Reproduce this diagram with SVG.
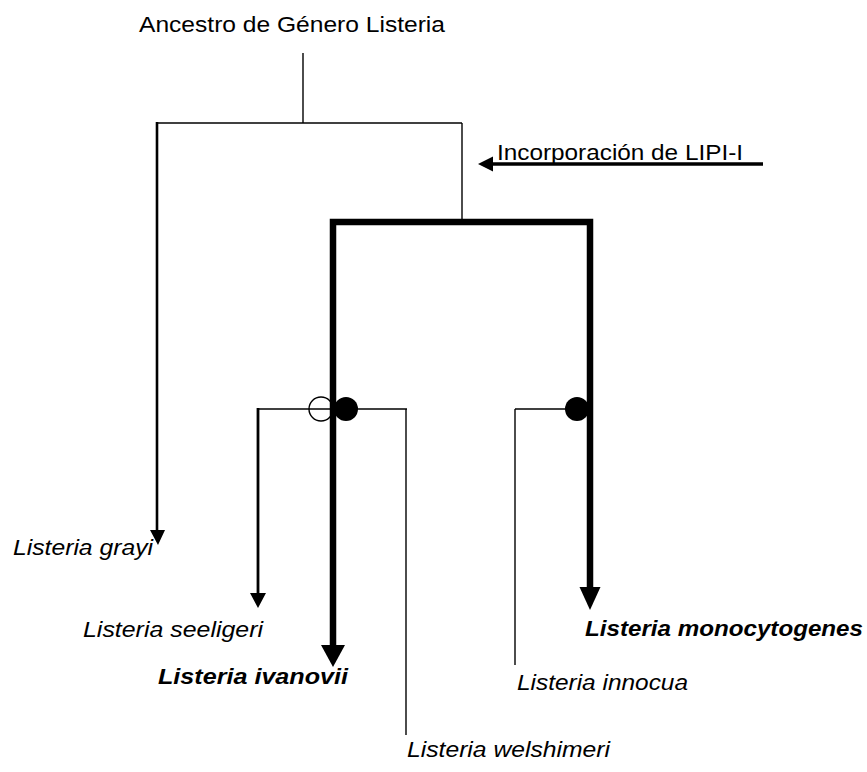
<svg xmlns="http://www.w3.org/2000/svg" width="867" height="772" viewBox="0 0 867 772">
<style>
  text { font-family: "Liberation Sans", Arial, sans-serif; font-size: 22px; fill: #000; }
  .sp { font-style: italic; }
  .bold { font-weight: bold; }
  .thin { stroke: #000; stroke-width: 1.4; fill: none; }
  .arr { stroke: #000; stroke-width: 3.5; fill: none; }
  .thick { stroke: #000; stroke-width: 6.5; fill: none; stroke-linejoin: miter; }
  .head { fill: #000; stroke: none; }
</style>
<rect width="867" height="772" fill="#fff"/>
<g id="ancestro">
  <text x="139" y="32" font-size="22" textLength="306" lengthAdjust="spacingAndGlyphs">Ancestro de Género Listeria</text>
</g>
<g id="lipi">
  <text x="497" y="160" font-size="22" textLength="246" lengthAdjust="spacingAndGlyphs">Incorporación de LIPI-I</text>
</g>
<g id="grayi"><text class="sp" x="13" y="555" textLength="140" lengthAdjust="spacingAndGlyphs">Listeria grayi</text></g>
<g id="seeligeri"><text class="sp" x="83" y="637" textLength="180" lengthAdjust="spacingAndGlyphs">Listeria seeligeri</text></g>
<g id="ivanovii"><text class="sp bold" x="158" y="684" textLength="190" lengthAdjust="spacingAndGlyphs">Listeria ivanovii</text></g>
<g id="monocytogenes"><text class="sp bold" x="585" y="636" textLength="278" lengthAdjust="spacingAndGlyphs">Listeria monocytogenes</text></g>
<g id="innocua"><text class="sp" x="517" y="690" textLength="171" lengthAdjust="spacingAndGlyphs">Listeria innocua</text></g>
<g id="welshimeri"><text class="sp" x="407" y="757" textLength="203" lengthAdjust="spacingAndGlyphs">Listeria welshimeri</text></g>
<g id="markers">
  <circle cx="321" cy="409" r="12" fill="#fff" stroke="#000" stroke-width="1.4"/>
  <circle cx="346" cy="409" r="12" fill="#000"/>
  <circle cx="577" cy="409" r="12" fill="#000"/>
</g>
<g id="connectors">
  <line class="thin" x1="303" y1="53" x2="303" y2="123"/>
  <line class="thin" x1="156" y1="123" x2="462" y2="123"/>
  <line class="thin" x1="462" y1="123" x2="462" y2="219"/>
  <line class="arr" x1="157" y1="122" x2="157" y2="531" style="stroke-width:2.6"/>
  <polygon class="head" points="150,530 165,530 158,545"/>
  <line class="thin" x1="258" y1="409" x2="407" y2="409"/>
  <line class="thin" x1="515" y1="409" x2="577" y2="409"/>
  <line class="arr" x1="258" y1="408" x2="258" y2="594" style="stroke-width:2.8"/>
  <polygon class="head" points="250,593 266,593 258,608"/>
  <line class="thin" x1="406" y1="409" x2="406" y2="735"/>
  <line class="thin" x1="515" y1="409" x2="515" y2="665"/>
  <line class="arr" x1="763" y1="164" x2="491" y2="164"/>
  <polygon class="head" points="478,164 493,156.5 493,171.5"/>
  <path class="thick" d="M333,646 L333,222 L590,222 L590,588"/>
  <polygon class="head" points="321,645 345,645 333,667"/>
  <polygon class="head" points="579.5,587 600.5,587 590,610"/>
</g>
</svg>
